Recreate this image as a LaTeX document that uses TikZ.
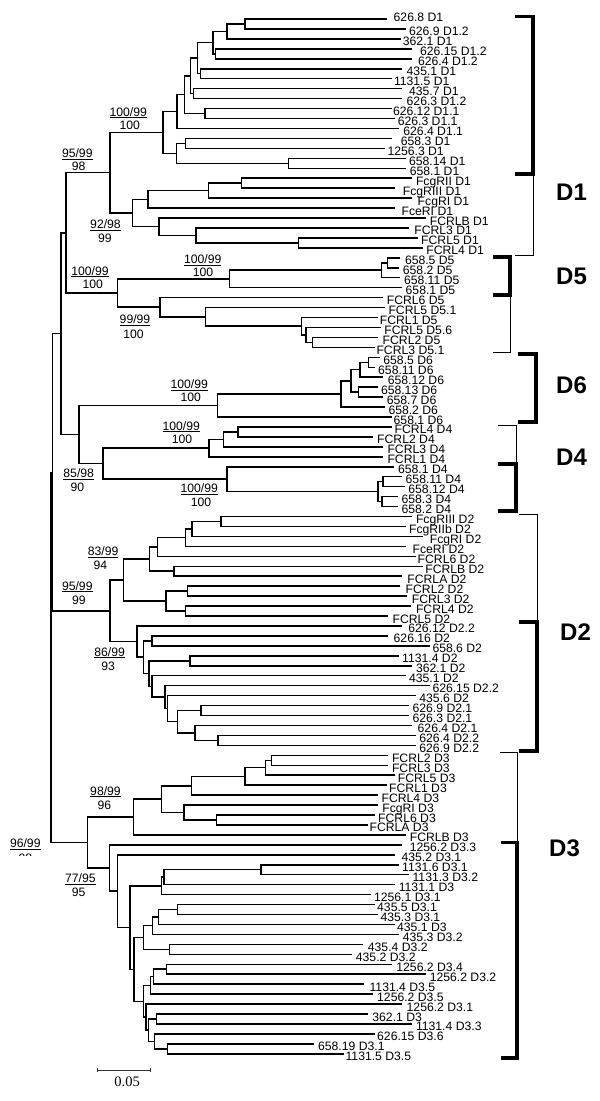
\documentclass[tikz,border=0pt]{standalone}
\usepackage{fontspec}
\setmainfont{Liberation Sans}
\newfontfamily\serifA{Liberation Serif}
\usetikzlibrary{calc}
\newcommand\lblfont{\fontsize{12.2}{12.2}\selectfont}
\newcounter{lfc}
\newcounter{bsc}
\tikzset{
  br/.style={line width=1.5pt, black},
  lbl/.style={anchor=base west, inner sep=0pt, font=\lblfont},
  bsl/.style={anchor=base, inner sep=0pt, font=\lblfont},
  thk/.style={line width=3.6pt},
  thn/.style={line width=1pt},
  dlab/.style={anchor=west, inner sep=0pt, font=\fontsize{24}{24}\selectfont\bfseries},
}
% leaf: [baseline offset] name, line end x, label x, text
\newcommand\Lf[5][7]{%
  \stepcounter{lfc}%
  \pgfmathsetmacro\lfy{19+(\arabic{lfc}-1)*9.95}%
  \coordinate (#2) at ({#3},{\lfy});%
  \node[lbl] (#2t) at ({#4},{\lfy+#1}) {#5};%
}
% join: name, x, child1, child2
\newcommand\Jn[4]{%
  \path let \p1=(#3), \p2=(#4) in (#2pt,{(\y1+\y2)/2}) coordinate (#1);%
  \draw[br] (#3) -| (#1) |- (#4);%
}
% bootstrap label
\newcommand\Bs[6]{%
  \stepcounter{bsc}%
  \node[bsl] (bs\arabic{bsc}a) at ({#1},{#2+4.4}) {\underline{#3}};%
  \node[bsl] (bs\arabic{bsc}b) at ({#4},{#5+4.4}) {#6};%
}
\begin{document}
\begin{tikzpicture}[x=1pt,y=-1pt]
\fill[white] (0,0) rectangle (600,1101);
\useasboundingbox (0,0) rectangle (600,1101);
% leaves
\Lf[2.7]{L1}{387.3}{393.5}{626.8 D1}
\Lf{L2}{405.5}{408.9}{626.9 D1.2}
\Lf{L3}{401.4}{402.7}{362.1 D1}
\Lf{L4}{412.4}{419.9}{626.15 D1.2}
\Lf{L5}{412.4}{417.9}{626.4 D1.2}
\Lf{L6}{402}{406.5}{435.1 D1}
\Lf{L7}{391.8}{393.8}{1131.5 D1}
\Lf{L8}{402}{408.9}{435.7 D1}
\Lf{L9}{402}{406.5}{626.3 D1.2}
\Lf{L10}{391.8}{392.8}{626.12 D1.1}
\Lf{L11}{395.2}{397.6}{626.3 D1.1}
\Lf{L12}{398.6}{403.1}{626.4 D1.1}
\Lf{L13}{391.8}{400.7}{658.3 D1}
\Lf{L14}{384.9}{387.3}{1256.3 D1}
\Lf{L15}{405.5}{408.9}{658.14 D1}
\Lf{L16}{405.5}{409.6}{658.1 D1}
\Lf{L17}{412.4}{415.8}{FcgRII D1}
\Lf{L18}{395.2}{402.7}{FcgRIII D1}
\Lf{L19}{412.4}{417.5}{FcgRI D1}
\Lf{L20}{395.2}{401.4}{FceRI D1}
\Lf{L21}{426.1}{429.6}{FCRLB D1}
\Lf{L22}{408.9}{414.1}{FCRL3 D1}
\Lf{L23}{417.5}{421}{FCRL5 D1}
\Lf{L24}{422.7}{426.1}{FCRL4 D1}
\Lf{L25}{400.3}{404.8}{658.5 D5}
\Lf{L26}{398.6}{402.7}{658.2 D5}
\Lf{L27}{400.3}{403.8}{658.11 D5}
\Lf{L28}{402}{405.5}{658.1 D5}
\Lf{L29}{383.2}{386.6}{FCRL6 D5}
\Lf{L30}{384.9}{388.3}{FCRL5 D5.1}
\Lf{L31}{378}{379.7}{FCRL1 D5}
\Lf{L32}{381.4}{384.2}{FCRL5 D5.6}
\Lf{L33}{378}{382.5}{FCRL2 D5}
\Lf{L34}{375}{376.3}{FCRL3 D5.1}
\Lf{L35}{379.7}{383.2}{658.5 D6}
\Lf{L36}{374.6}{378}{658.11 D6}
\Lf{L37}{383.2}{387.6}{658.12 D6}
\Lf{L38}{378}{380.8}{658.13 D6}
\Lf{L39}{383.2}{386.6}{658.7 D6}
\Lf{L40}{384.9}{388.3}{658.2 D6}
\Lf{L41}{391.8}{393.5}{658.1 D6}
\Lf{L42}{391.8}{394.5}{FCRL4 D4}
\Lf{L43}{372.9}{377}{FCRL2 D4}
\Lf{L44}{383.2}{387.3}{FCRL3 D4}
\Lf{L45}{383.2}{387.3}{FCRL1 D4}
\Lf{L46}{393.5}{397.9}{658.1 D4}
\Lf{L47}{402}{405.5}{658.11 D4}
\Lf{L48}{404.8}{408.2}{658.12 D4}
\Lf{L49}{397.9}{401.4}{658.3 D4}
\Lf{L50}{397.9}{401.4}{658.2 D4}
\Lf{L51}{412.4}{415.8}{FcgRIII D2}
\Lf{L52}{405.5}{408.9}{FcgRIIb D2}
\Lf{L53}{422.7}{429.6}{FcgRI D2}
\Lf{L54}{405.5}{412.4}{FceRI D2}
\Lf{L55}{415.8}{417.5}{FCRL6 D2}
\Lf{L56}{422.7}{425.1}{FCRLB D2}
\Lf{L57}{402}{407.2}{FCRLA D2}
\Lf{L58}{400.3}{405.5}{FCRL2 D2}
\Lf{L59}{407.2}{411.7}{FCRL3 D2}
\Lf{L60}{410.7}{415.8}{FCRL4 D2}
\Lf{L61}{388.3}{392.4}{FCRL5 D2}
\Lf{L62}{402}{408.2}{626.12 D2.2}
\Lf{L63}{388.3}{393.5}{626.16 D2}
\Lf{L64}{429.6}{432.3}{658.6 D2}
\Lf{L65}{398.6}{402}{1131.4 D2}
\Lf{L66}{412.4}{415.8}{362.1 D2}
\Lf{L67}{405.5}{408.9}{435.1 D2}
\Lf{L68}{429.6}{432.3}{626.15 D2.2}
\Lf{L69}{415.8}{419.2}{435.6 D2}
\Lf{L70}{408.9}{412.4}{626.9 D2.1}
\Lf{L71}{408.9}{412.4}{626.3 D2.1}
\Lf{L72}{412.4}{417.5}{626.4 D2.1}
\Lf{L73}{415.8}{419.2}{626.4 D2.2}
\Lf{L74}{415.8}{419.2}{626.9 D2.2}
\Lf{L75}{388.3}{391.8}{FCRL2 D3}
\Lf{L76}{388.3}{391.8}{FCRL3 D3}
\Lf{L77}{395.2}{397.6}{FCRL5 D3}
\Lf{L78}{386.6}{389}{FCRL1 D3}
\Lf{L79}{378}{381.4}{FCRL4 D3}
\Lf{L80}{378}{382.1}{FcgRI D3}
\Lf{L81}{374.6}{378}{FCRL6 D3}
\Lf{L82}{367.7}{369.4}{FCRLA D3}
\Lf{L83}{405.5}{409.6}{FCRLB D3}
\Lf{L84}{402}{409.6}{1256.2 D3.3}
\Lf{L85}{395.2}{401.4}{435.2 D3.1}
\Lf{L86}{398.6}{402}{1131.6 D3.1}
\Lf{L87}{408.9}{412.4}{1131.3 D3.2}
\Lf{L88}{395.2}{398.6}{1131.1 D3}
\Lf{L89}{371.1}{373.9}{1256.1 D3.1}
\Lf{L90}{374.6}{377}{435.5 D3.1}
\Lf{L91}{378}{380.4}{435.3 D3.1}
\Lf{L92}{395}{396.9}{435.1 D3}
\Lf{L93}{398.6}{402.7}{435.3 D3.2}
\Lf{L94}{362.5}{367.7}{435.4 D3.2}
\Lf{L95}{352.2}{355.7}{435.2 D3.2}
\Lf{L96}{391.8}{396.2}{1256.2 D3.4}
\Lf{L97}{426.1}{429.6}{1256.2 D3.2}
\Lf{L98}{364.3}{369.4}{1131.4 D3.5}
\Lf{L99}{372.9}{377}{1256.2 D3.5}
\Lf{L100}{402}{406.5}{1256.2 D3.1}
\Lf{L101}{367.7}{372.2}{362.1 D3}
\Lf{L102}{412.4}{415.8}{1131.4 D3.3}
\Lf{L103}{374.6}{377}{626.15 D3.6}
\Lf{L104}{314.4}{317.9}{658.19 D3.1}
\Lf{L105}{343.6}{345.4}{1131.5 D3.5}
% D1 clade
\Jn{c1}{245.1}{L1}{L2}
\Jn{a3}{226.8}{c1}{L3}
\Jn{c4}{215.5}{L4}{L5}
\Jn{a4}{213.1}{a3}{c4}
\Jn{c6}{200.3}{L6}{L7}
\Jn{a6}{197.6}{a4}{c6}
\Jn{c8}{193.5}{L8}{L9}
\Jn{a8}{190.7}{a6}{c8}
\Jn{c10}{204.8}{L10}{L11}
\Jn{a10}{184.5}{a8}{c10}
\Jn{a12}{177}{a10}{L12}
\Jn{c13}{185.6}{L13}{L14}
\Jn{c15}{288.7}{L15}{L16}
\Jn{a13}{176.3}{c13}{c15}
\Jn{nA}{163.2}{a12}{a13}
\Jn{c17}{241.6}{L17}{L18}
\Jn{b19}{208.6}{c17}{L19}
\Jn{b20}{147.8}{b19}{L20}
\Jn{c23}{298.3}{L23}{L24}
\Jn{b22}{195.9}{L22}{c23}
\Jn{b21}{158.8}{L21}{b22}
\Jn{nB}{132.3}{b20}{b21}
\Jn{nK}{110}{nA}{nB}
% D5
\Jn{c25}{387.3}{L25}{L26}
\Jn{d27}{381.4}{c25}{L27}
\Jn{nC}{229.6}{d27}{L28}
\Jn{c33}{312.7}{L33}{L34}
\Jn{d32}{305.8}{L32}{c33}
\Jn{d31}{301.4}{L31}{d32}
\Jn{d30}{205.5}{L30}{d31}
\Jn{nD}{159.8}{L29}{d30}
\Jn{nE}{117.5}{nC}{nD}
\Jn{nF}{66}{nK}{nE}
% D6
\Jn{c35}{368.4}{L35}{L36}
\Jn{e37}{360.1}{c35}{L37}
\Jn{c38}{358.4}{L38}{L39}
\Jn{e38}{351.2}{e37}{c38}
\Jn{e40}{341.2}{e38}{L40}
\Jn{nG}{217.5}{e40}{L41}
% D4
\Jn{c42}{238.1}{L42}{L43}
\Jn{f44}{223.4}{c42}{L44}
\Jn{nH}{208.9}{f44}{L45}
\Jn{c47}{383.2}{L47}{L48}
\Jn{c49}{382.1}{L49}{L50}
\Jn{f47}{378}{c47}{c49}
\Jn{nI}{226.8}{L46}{f47}
\Jn{nJ}{103.1}{nH}{nI}
\Jn{nL}{79}{nG}{nJ}
\Jn{nM}{61.2}{nF}{nL}
% D2
\Jn{c51}{221}{L51}{L52}
\Jn{g53}{191.8}{c51}{L53}
\Jn{g54}{185.6}{g53}{L54}
\Jn{g55}{157.4}{g54}{L55}
\Jn{c56}{174.2}{L56}{L57}
\Jn{g56}{149.5}{g55}{c56}
\Jn{c58}{187.3}{L58}{L59}
\Jn{c60}{185.6}{L60}{L61}
\Jn{g58}{166}{c58}{c60}
\Jn{nN}{123.7}{g56}{g58}
\Jn{c63}{151.9}{L63}{L64}
\Jn{c65}{190}{L65}{L66}
\Jn{c70}{201}{L70}{L71}
\Jn{c73}{218.2}{L73}{L74}
\Jn{h1}{194.8}{L72}{c73}
\Jn{h2}{177.7}{c70}{h1}
\Jn{h3}{167.4}{L69}{h2}
\Jn{h4}{164.9}{L68}{h3}
\Jn{h5}{152.2}{L67}{h4}
\Jn{h6}{148.8}{c65}{h5}
\Jn{h7}{143.6}{c63}{h6}
\Jn{nO}{136.8}{L62}{h7}
\Jn{nP}{110}{nN}{nO}
\Jn{nQ}{52.3}{nM}{nP}
% D3
\Jn{c75}{271.5}{L75}{L76}
\Jn{i1}{265.6}{c75}{L77}
\Jn{i2}{245}{i1}{L78}
\Jn{i3}{191.4}{i2}{L79}
\Jn{c81}{216.5}{L81}{L82}
\Jn{i4}{183.8}{L80}{c81}
\Jn{i5}{161.5}{i3}{i4}
\Jn{nR}{133.3}{i5}{L83}
\Jn{c86}{261.2}{L86}{L87}
\Jn{j1}{164}{c86}{L88}
\Jn{j2}{161.7}{j1}{L89}
\Jn{c90}{177.3}{L90}{L91}
\Jn{j3}{158.3}{c90}{L92}
\Jn{j4}{152.7}{j3}{L93}
\Jn{c94}{169.3}{L94}{L95}
\Jn{j5}{143.3}{j4}{c94}
\Jn{c96}{166.7}{L96}{L97}
\Jn{k1}{153.3}{c96}{L98}
\Jn{k2}{150.7}{k1}{L99}
\Jn{c101}{156.7}{L101}{L102}
\Jn{c104}{167.7}{L104}{L105}
\Jn{k3}{154.3}{L103}{c104}
\Jn{k4}{148.3}{c101}{k3}
\Jn{k5}{146}{L100}{k4}
\Jn{k6}{143.3}{k2}{k5}
\Jn{j6}{133.8}{j5}{k6}
\Jn{j7}{130}{j2}{j6}
\Jn{j8}{117.7}{L85}{j7}
\Jn{j9}{109.3}{L84}{j8}
\Jn{nS}{87.3}{nR}{j9}
\Jn{root}{51.2}{nQ}{nS}
% support values
\Bs{128.2}{111.7}{100/99}{129.7}{124.7}{100}
\Bs{77.3}{153.3}{95/99}{78.7}{166}{98}
\Bs{105.5}{224.3}{92/98}{104.8}{238.3}{99}
\Bs{202.7}{259}{100/99}{203.1}{272.3}{100}
\Bs{90}{270.7}{100/99}{92.8}{284.3}{100}
\Bs{135}{319.3}{99/99}{133.5}{334}{100}
\Bs{189.3}{384}{100/99}{190.7}{397.3}{100}
\Bs{181.2}{425.7}{100/99}{182}{439.3}{100}
\Bs{78.7}{473.3}{85/98}{77.3}{487.3}{90}
\Bs{199.3}{488.3}{100/99}{201}{502.3}{100}
\Bs{103.1}{551}{83/99}{100.5}{565}{94}
\Bs{77.3}{585.7}{95/99}{79}{600}{99}
\Bs{109.6}{651.7}{86/99}{108.2}{665.7}{93}
\Bs{105.5}{790.7}{98/99}{104.3}{805}{96}
\Bs{80.4}{878.3}{77/95}{78.7}{892.3}{95}
\node[bsl] (rtop) at (25.3,{843.5+4.4}) {\underline{96/99}};
\begin{scope}
\clip (0,835) rectangle (60,855.5);
\node[bsl] (rbot) at (25.3,{858+4.4}) {98};
\end{scope}
% domain brackets
\draw[thk] (515,16.5) -- (533,16.5) -- (533,174) -- (515,174);
\draw[thn] (533,174) -- (533,255) -- (515,255);
\draw[thk] (493,257) -- (510,257) -- (510,295) -- (493,295);
\draw[thn] (510,295) -- (510,352.3) -- (493,352.3);
\draw[thk] (518,354) -- (536,354) -- (536,421.7) -- (518,421.7);
\draw[thn] (498,425) -- (516,425) -- (516,464);
\draw[thk] (498,464) -- (516,464) -- (516,510.7) -- (498,510.7);
\draw[thn] (519,514) -- (537,514) -- (537,622);
\draw[thk] (519,622) -- (537,622) -- (537,750.7) -- (519,750.7);
\draw[thn] (500,752.3) -- (517,752.3) -- (517,842.3);
\draw[thk] (501,842.3) -- (517,842.3) -- (517,1057.7) -- (501,1057.7);
\node[dlab] (D1) at (556,192) {D1};
\node[dlab] (D5) at (556,276) {D5};
\node[dlab] (D6) at (556,385) {D6};
\node[dlab] (D4) at (556,457) {D4};
\node[dlab] (D2) at (560,632) {D2};
\node[dlab] (D3) at (549,848) {D3};
% scale bar
\coordinate (sbL) at (97.9,1070);
\coordinate (sbR) at (150.2,1070);
\draw[line width=1pt, black!80] (sbL) -- (sbR);
\draw[line width=1pt, black!80] ([yshift=2.2pt]sbL) -- ([yshift=-2.2pt]sbL);
\draw[line width=1pt, black!80] ([yshift=2.2pt]sbR) -- ([yshift=-2.2pt]sbR);
\node[inner sep=0pt, font=\serifA\fontsize{14.5}{14.5}\selectfont] (sbT) at (127.1,1081.7) {0.05};
\end{tikzpicture}
\end{document}
